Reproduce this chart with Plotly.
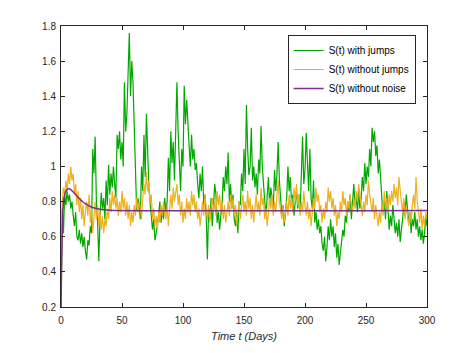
import plotly.graph_objects as go

# time axis (days)
days = list(range(301))

# S(t) with jumps
s_jumps = [
    0.20, 0.76, 0.62, 0.84, 0.78, 0.86, 0.80, 0.84, 0.76, 0.80,
    0.72, 0.66, 0.74, 0.60, 0.58, 0.64, 0.56, 0.62, 0.54, 0.60,
    0.52, 0.47, 0.58, 0.55, 0.66, 0.62, 1.10, 0.96, 1.17, 0.80,
    0.68, 0.46, 0.72, 0.85, 0.76, 0.82, 0.70, 0.92, 0.78, 1.01,
    0.84, 0.96, 0.88, 1.00, 0.90, 0.82, 1.18, 1.10, 1.20, 1.04,
    1.14, 1.00, 1.48, 1.20, 1.30, 1.58, 1.76, 1.40, 1.60, 1.48,
    1.20, 0.92, 0.75, 0.82, 0.78, 0.70, 1.00, 0.86, 1.18, 0.94,
    1.30, 1.10, 0.88, 0.80, 0.72, 0.64, 0.70, 0.58, 0.62, 0.66,
    0.72, 0.80, 0.68, 0.76, 0.70, 0.82, 0.74, 0.80, 1.05, 0.86,
    1.20, 1.02, 1.14, 0.92, 1.30, 1.48, 1.20, 1.02, 0.86, 1.10,
    1.00, 1.46, 1.24, 1.38, 1.20, 1.12, 1.00, 1.18, 1.04, 1.10,
    0.98, 1.02, 0.90, 0.82, 0.96, 0.86, 1.00, 0.78, 0.84, 0.72,
    0.47, 0.76, 0.70, 0.82, 0.66, 0.76, 0.90, 0.84, 0.68, 0.74,
    0.64, 0.72, 0.78, 0.94, 0.86, 1.00, 0.90, 1.08, 0.80, 0.90,
    0.76, 0.84, 0.70, 0.66, 0.74, 0.62, 0.80, 0.78, 0.96, 0.86,
    1.10, 0.90, 1.35, 1.10, 0.95, 1.00, 1.22, 0.92, 1.00, 0.88,
    0.96, 0.84, 1.04, 0.96, 1.23, 1.00, 0.88, 0.80, 0.72, 0.84,
    0.94, 0.78, 0.88, 0.82, 0.76, 0.98, 0.86, 0.96, 1.14, 0.92,
    0.82, 0.72, 0.78, 0.66, 0.74, 0.82, 1.00, 0.86, 0.94, 0.78,
    0.84, 0.72, 0.80, 0.86, 0.76, 0.84, 0.74, 1.00, 1.17, 0.90,
    0.98, 1.19, 1.00, 0.86, 1.10, 0.82, 0.76, 0.92, 0.68, 0.74,
    0.64, 0.70, 0.62, 0.66, 0.56, 0.52, 0.60, 0.46, 0.54, 0.66,
    0.58, 0.70, 0.60, 0.66, 0.54, 0.62, 0.48, 0.56, 0.44, 0.52,
    0.58, 0.64, 0.60, 0.72, 0.68, 0.80, 0.74, 0.84, 0.70, 0.80,
    0.90, 0.78, 0.82, 0.74, 0.86, 0.76, 0.82, 0.94, 0.86, 1.02,
    0.90, 1.00, 0.94, 1.10, 1.00, 1.22, 1.14, 1.20, 1.06, 1.12,
    0.96, 1.04, 0.90, 0.82, 0.74, 0.80, 0.70, 0.86, 0.76, 0.64,
    0.72, 0.66, 0.78, 0.70, 0.62, 0.68, 0.60, 0.70, 0.57, 0.64,
    0.70, 0.80, 0.72, 0.84, 0.76, 0.68, 0.74, 0.62, 0.70, 0.66,
    0.74, 0.64, 0.70, 0.60, 0.66, 0.58, 0.64, 0.56, 0.62, 0.72,
    0.66,
]

# S(t) without jumps
s_nojumps = [
    0.20, 0.80, 0.88, 0.84, 0.92, 0.86, 0.96, 0.90, 1.00, 0.92,
    0.96, 0.84, 0.90, 0.78, 0.86, 0.74, 0.82, 0.70, 0.78, 0.66,
    0.74, 0.80, 0.72, 0.84, 0.68, 0.76, 0.62, 0.72, 0.80, 0.70,
    0.78, 0.66, 0.74, 0.64, 0.72, 0.62, 0.70, 0.66, 0.76, 0.70,
    0.82, 0.74, 0.86, 0.78, 0.84, 0.76, 0.82, 0.72, 0.80, 0.74,
    0.86, 0.76, 0.82, 0.72, 0.80, 0.70, 0.78, 0.66, 0.74, 0.68,
    0.78, 0.72, 0.82, 0.74, 0.80, 0.76, 0.70, 0.82, 0.90, 0.84,
    0.97, 0.86, 0.92, 0.78, 0.84, 0.70, 0.76, 0.66, 0.72, 0.64,
    0.74, 0.68, 0.78, 0.72, 0.80, 0.74, 0.70, 0.78, 0.66, 0.76,
    0.84, 0.76, 0.88, 0.80, 0.86, 0.90, 0.78, 0.84, 0.72, 0.80,
    0.68, 0.76, 0.70, 0.82, 0.74, 0.80, 0.72, 0.86, 0.78, 0.84,
    0.74, 0.80, 0.70, 0.76, 0.66, 0.74, 0.80, 0.72, 0.84, 0.76,
    0.70, 0.78, 0.68, 0.76, 0.82, 0.74, 0.80, 0.72, 0.86, 0.78,
    0.84, 0.74, 0.80, 0.70, 0.78, 0.68, 0.74, 0.80, 0.72, 0.84,
    0.76, 0.82, 0.72, 0.78, 0.66, 0.74, 0.80, 0.70, 0.76, 0.84,
    0.74, 0.80, 0.72, 0.86, 0.76, 0.82, 0.70, 0.78, 0.68, 0.76,
    0.84, 0.74, 0.80, 0.72, 0.88, 0.78, 0.82, 0.70, 0.76, 0.66,
    0.74, 0.82, 0.76, 0.84, 0.72, 0.80, 0.74, 0.86, 0.92, 0.80,
    0.76, 0.70, 0.78, 0.68, 0.74, 0.80, 0.72, 0.84, 0.76, 0.82,
    0.74, 0.88, 0.80, 0.90, 0.78, 0.84, 0.72, 0.80, 0.74, 0.86,
    0.78, 0.72, 0.80, 0.70, 0.76, 0.66, 0.74, 0.82, 0.76, 0.88,
    0.80, 0.84, 0.74, 0.78, 0.68, 0.76, 0.70, 0.80, 0.74, 0.88,
    0.80, 0.86, 0.76, 0.82, 0.72, 0.78, 0.66, 0.74, 0.70, 0.80,
    0.74, 0.86, 0.78, 0.82, 0.72, 0.80, 0.76, 0.84, 0.78, 0.74,
    0.82, 0.76, 0.86, 0.80, 0.90, 0.82, 0.78, 0.72, 0.80, 0.74,
    0.84, 0.78, 0.92, 0.84, 0.80, 0.74, 0.82, 0.70, 0.78, 0.72,
    0.66, 0.74, 0.68, 0.80, 0.72, 0.86, 0.76, 0.82, 0.74, 0.84,
    0.78, 0.86, 0.80, 0.90, 0.82, 0.88, 0.78, 0.94, 0.84, 0.80,
    0.74, 0.82, 0.70, 0.78, 0.72, 0.66, 0.74, 0.68, 0.78, 0.84,
    0.76, 0.94, 0.80, 0.74, 0.68, 0.76, 0.64, 0.72, 0.66, 0.74,
    0.70,
]

# S(t) without noise
det_days = [0, 1, 2, 3, 4, 5, 6.5, 8, 10, 12, 14, 16, 18, 20, 23, 26, 30, 35, 40, 300]
s_det = [0.20, 0.60, 0.80, 0.84, 0.86, 0.87, 0.874, 0.868, 0.855, 0.84,
         0.825, 0.81, 0.798, 0.788, 0.776, 0.767, 0.759, 0.754, 0.751, 0.75]

fig = go.Figure()
fig.add_trace(go.Scatter(x=days, y=s_jumps, mode="lines", name="S(t) with jumps",
                         line=dict(color="rgb(0,168,0)", width=1.2)))
fig.add_trace(go.Scatter(x=days, y=s_nojumps, mode="lines", name="S(t) without jumps",
                         line=dict(color="#EDB120", width=1.2)))
fig.add_trace(go.Scatter(x=det_days, y=s_det, mode="lines", name="S(t) without noise",
                         line=dict(color="#7E2F8E", width=1.5, shape="spline")))

font_family = "Liberation Sans, Arial"
axis_common = dict(
    showline=True, linecolor="#262626", linewidth=1, mirror="ticks",
    ticks="inside", ticklen=4, tickcolor="#262626", tickwidth=1,
    showgrid=False, zeroline=False,
    tickfont=dict(family=font_family, size=10, color="#262626"),
)

# page body has an 8px margin, so the figure is sized 8px smaller
fig.update_layout(
    width=463, height=345,
    paper_bgcolor="white", plot_bgcolor="white",
    margin=dict(l=53, r=44, t=18, b=39),
    xaxis=dict(range=[0, 300], dtick=50, tick0=0, ticklabelstandoff=4,
               title=dict(text="<i>Time t (Days)</i>", standoff=7,
                          font=dict(family=font_family, size=11, color="#262626")),
               **axis_common),
    yaxis=dict(range=[0.2, 1.8], dtick=0.2, tick0=0.2, ticklabelstandoff=2, **axis_common),
    legend=dict(
        x=0.969, y=0.968, xanchor="right", yanchor="top",
        bgcolor="white", bordercolor="#262626", borderwidth=1,
        font=dict(family=font_family, size=10, color="black"),
        itemwidth=30, tracegroupgap=0,
    ),
    showlegend=True,
)

fig.write_html("out.html")
